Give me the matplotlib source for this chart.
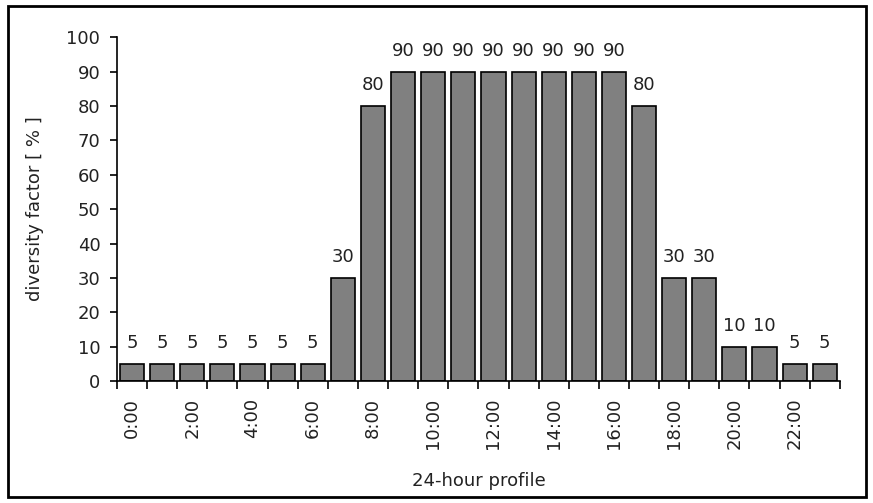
import numpy as np
import matplotlib.pyplot as plt
from matplotlib.patches import Rectangle

plt.rcParams['font.family'] = ['DejaVu Sans']

hours = ['%d:00' % h for h in range(24)]
values = [5, 5, 5, 5, 5, 5, 5, 30, 80, 90, 90, 90, 90, 90, 90, 90, 90, 80, 30, 30, 10, 10, 5, 5]

fig = plt.figure(figsize=(8.73, 5.03), dpi=100)
ax = fig.add_axes([0.134, 0.2425, 0.828, 0.6835])

x = np.arange(len(values))
ax.bar(x, values, width=0.8, color='#808080', edgecolor='black', linewidth=1.2)
for xi, v in zip(x, values):
    ax.text(xi, v + 3.5, str(v), ha='center', va='bottom', fontsize=13, color='#222222')

ax.set_xlim(-0.5, len(values) - 0.5)
ax.set_ylim(0, 100)
ax.set_yticks(range(0, 101, 10))
ax.set_xticks(x[::2])
ax.set_xticklabels(hours[::2], rotation=90, fontsize=13, color='#222222')
ax.set_xticks(np.arange(-0.5, len(values), 1), minor=True)
ax.tick_params(axis='x', which='major', length=0, pad=12)
ax.tick_params(axis='x', which='minor', length=6, width=1.2, direction='out')
ax.tick_params(axis='y', labelsize=13, labelcolor='#222222', length=5, width=1.2,
               direction='out', pad=7)

ax.spines['top'].set_visible(False)
ax.spines['right'].set_visible(False)
ax.spines['left'].set_linewidth(1.2)
ax.spines['bottom'].set_linewidth(1.2)

ax.set_ylabel('diversity factor [ % ]', fontsize=13, color='#222222', labelpad=16)
ax.set_xlabel('24-hour profile', fontsize=13, color='#222222', labelpad=16)

fig.patches.append(Rectangle((0.009, 0.012), 0.983, 0.976, transform=fig.transFigure,
                             fill=False, edgecolor='black', linewidth=2))

plt.savefig('out.png')
